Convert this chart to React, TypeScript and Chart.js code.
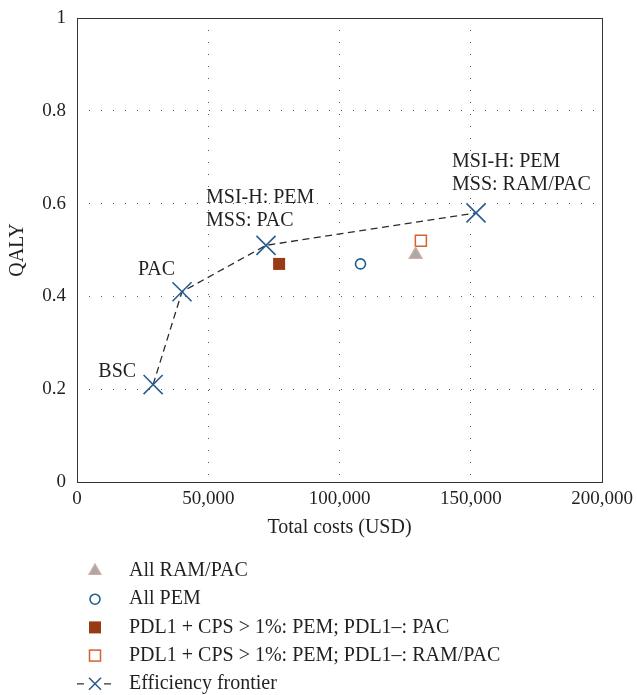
import React, { useEffect, useRef } from "react";
import { Chart, registerables } from "chart.js";

Chart.register(...registerables);

// ---- data ----
const frontierCosts = [29000, 40000, 72000, 152000];
const frontierQaly = [0.21, 0.41, 0.51, 0.58];
const frontierLabels = [["BSC"], ["PAC"], ["MSI-H: PEM", "MSS: PAC"], ["MSI-H: PEM", "MSS: RAM/PAC"]];

const allRamPacCost = [129000];
const allRamPacQaly = [0.49];
const allPemCost = [108000];
const allPemQaly = [0.47];
const pdlPacCost = [77000];
const pdlPacQaly = [0.47];
const pdlRamPacCost = [131000];
const pdlRamPacQaly = [0.52];

const seriesNames = [
  "All RAM/PAC",
  "All PEM",
  "PDL1 + CPS > 1%: PEM; PDL1–: PAC",
  "PDL1 + CPS > 1%: PEM; PDL1–: RAM/PAC",
  "Efficiency frontier",
];

const xTicks = [0, 50000, 100000, 150000, 200000];
const yTicks = [0, 0.2, 0.4, 0.6, 0.8, 1];
const xTitle = "Total costs (USD)";
const yTitle = "QALY";

// ---- styles ----
const FONT = "'Liberation Serif', 'Times New Roman', serif";
const TEXT = "#231f20";
const BLUE = "#2a5d8f";
const CIRCLE = "#1f5f8f";
const RUST = "#973b16";
const ORANGE = "#d0642f";
const TRI_FILL = "#a9a9a9";
const TRI_BORDER = "#d8aaa2";

// label offsets relative to each frontier point: [dx, dy of first line, align]
const labelOffsets: [number, number, CanvasTextAlign][] = [
  [-17, -13, "right"],
  [-7, -22, "right"],
  [-60, -48, "left"],
  [-24, -51, "left"],
];
const LABEL_LINE = 23;

const pts = (xs: number[], ys: number[]) => xs.map((x, i) => ({ x, y: ys[i] }));

function drawSym(ctx: CanvasRenderingContext2D, kind: number, x: number, y: number) {
  ctx.save();
  ctx.setLineDash([]);
  if (kind === 0) {
    const r = 7;
    ctx.beginPath();
    ctx.moveTo(x, y - r);
    ctx.lineTo(x + r * 0.866, y + r / 2);
    ctx.lineTo(x - r * 0.866, y + r / 2);
    ctx.closePath();
    ctx.fillStyle = TRI_FILL;
    ctx.fill();
    ctx.strokeStyle = TRI_BORDER;
    ctx.lineWidth = 1.2;
    ctx.stroke();
  } else if (kind === 1) {
    ctx.beginPath();
    ctx.arc(x, y, 5, 0, Math.PI * 2);
    ctx.strokeStyle = CIRCLE;
    ctx.lineWidth = 1.6;
    ctx.stroke();
  } else if (kind === 2) {
    ctx.fillStyle = RUST;
    ctx.fillRect(x - 6, y - 6, 12, 12);
  } else if (kind === 3) {
    ctx.fillStyle = "#fff";
    ctx.fillRect(x - 5.5, y - 5.5, 11, 11);
    ctx.strokeStyle = ORANGE;
    ctx.lineWidth = 1.5;
    ctx.strokeRect(x - 5.5, y - 5.5, 11, 11);
  } else {
    ctx.strokeStyle = "#333";
    ctx.lineWidth = 1.3;
    ctx.beginPath();
    ctx.moveTo(x - 18, y);
    ctx.lineTo(x - 11, y);
    ctx.moveTo(x + 9, y);
    ctx.lineTo(x + 16, y);
    ctx.stroke();
    ctx.strokeStyle = BLUE;
    ctx.lineWidth = 1.6;
    ctx.beginPath();
    ctx.moveTo(x - 6, y - 6);
    ctx.lineTo(x + 6, y + 6);
    ctx.moveTo(x + 6, y - 6);
    ctx.lineTo(x - 6, y + 6);
    ctx.stroke();
  }
  ctx.restore();
}

const framePlugin = {
  id: "frame",
  beforeDatasetsDraw(chart: any) {
    const { ctx, chartArea: a } = chart;
    ctx.save();
    ctx.strokeStyle = "#333";
    ctx.lineWidth = 1;
    ctx.setLineDash([]);
    ctx.strokeRect(Math.round(a.left) + 0.5, Math.round(a.top) + 0.5, Math.round(a.right - a.left), Math.round(a.bottom - a.top));
    ctx.restore();
  },
};

const labelsPlugin = {
  id: "labels",
  afterDraw(chart: any) {
    const { ctx } = chart;
    const xs = chart.scales.x;
    const ys = chart.scales.y;
    ctx.save();
    ctx.fillStyle = TEXT;
    ctx.font = `20px ${FONT}`;
    ctx.textBaseline = "middle";
    frontierLabels.forEach((lines, i) => {
      const px = xs.getPixelForValue(frontierCosts[i]);
      const py = ys.getPixelForValue(frontierQaly[i]);
      const [dx, dy, align] = labelOffsets[i];
      ctx.textAlign = align;
      lines.forEach((t, j) => ctx.fillText(t, px + dx, py + dy + j * LABEL_LINE));
    });
    // legend
    const lx = 95;
    const ly0 = 571;
    const step = 28.2;
    seriesNames.forEach((name, i) => {
      const y = ly0 + i * step;
      drawSym(ctx, i, lx, y);
      ctx.fillStyle = TEXT;
      ctx.textAlign = "left";
      ctx.font = `20px ${FONT}`;
      ctx.fillText(name, 129, y);
    });
    ctx.restore();
  },
};

export default function App() {
  const ref = useRef<HTMLCanvasElement>(null);
  useEffect(() => {
    document.body.style.margin = "0";
    const canvas = ref.current!;
    const chart = new Chart(canvas, {
      type: "scatter",
      data: {
        datasets: [
          {
            label: seriesNames[0],
            data: pts(allRamPacCost, allRamPacQaly),
            pointStyle: "triangle",
            pointRadius: 7.5,
            backgroundColor: TRI_FILL,
            borderColor: TRI_BORDER,
            borderWidth: 1.2,
          },
          {
            label: seriesNames[1],
            data: pts(allPemCost, allPemQaly),
            pointStyle: "circle",
            pointRadius: 5,
            backgroundColor: "rgba(255,255,255,0)",
            borderColor: CIRCLE,
            borderWidth: 1.6,
          },
          {
            label: seriesNames[2],
            data: pts(pdlPacCost, pdlPacQaly),
            pointStyle: "rect",
            pointRadius: 8.5,
            backgroundColor: RUST,
            borderColor: RUST,
            borderWidth: 0,
          },
          {
            label: seriesNames[3],
            data: pts(pdlRamPacCost, pdlRamPacQaly),
            pointStyle: "rect",
            pointRadius: 7.8,
            backgroundColor: "#fff",
            borderColor: ORANGE,
            borderWidth: 1.5,
          },
          {
            label: seriesNames[4],
            data: pts(frontierCosts, frontierQaly),
            showLine: true,
            borderColor: "#2b2b2b",
            borderWidth: 1.3,
            borderDash: [7, 4.5],
            pointStyle: "crossRot",
            pointRadius: 13.5,
            pointBorderColor: BLUE,
            pointBackgroundColor: BLUE,
            pointBorderWidth: 1.6,
          } as any,
        ],
      },
      options: {
        responsive: false,
        animation: false,
        events: [],
        layout: { padding: { left: 0, top: 18, right: 35, bottom: 151 } },
        plugins: {
          legend: { display: false },
          tooltip: { enabled: false },
        },
        scales: {
          x: {
            type: "linear",
            min: 0,
            max: 200000,
            afterBuildTicks: (s: any) => {
              s.ticks = xTicks.map((v) => ({ value: v }));
            },
            afterFit: (s: any) => {
              s.height = 62;
              s.paddingLeft = 0;
              s.paddingRight = 0;
            },
            ticks: {
              padding: 6,
              color: TEXT,
              font: { family: FONT, size: 19 },
              maxRotation: 0,
              callback: (v: any) => Number(v).toLocaleString("en-US"),
            },
            grid: {
              drawTicks: false,
              color: (c: any) =>
                c.tick && (c.tick.value === 0 || c.tick.value === 200000) ? "rgba(0,0,0,0)" : "#5a5a5a",
              lineWidth: 1,
            },
            border: { display: false, dash: [1, 11] },
            title: {
              display: true,
              text: xTitle,
              color: TEXT,
              font: { family: FONT, size: 20 },
              padding: { top: 4, bottom: 4 },
            },
          },
          y: {
            type: "linear",
            min: 0,
            max: 1,
            afterBuildTicks: (s: any) => {
              s.ticks = yTicks.map((v) => ({ value: v }));
            },
            afterFit: (s: any) => {
              s.width = 77;
              s.paddingTop = 0;
              s.paddingBottom = 0;
            },
            ticks: {
              padding: 11,
              color: TEXT,
              font: { family: FONT, size: 19 },
              callback: (v: any) => String(v),
            },
            grid: {
              drawTicks: false,
              color: (c: any) =>
                c.tick && (c.tick.value === 0 || c.tick.value === 1) ? "rgba(0,0,0,0)" : "#5a5a5a",
              lineWidth: 1,
            },
            border: { display: false, dash: [1, 11] },
            title: {
              display: true,
              text: yTitle,
              color: TEXT,
              font: { family: FONT, size: 20 },
              padding: { top: 6, bottom: 4 },
            },
          },
        },
      },
      plugins: [framePlugin, labelsPlugin],
    });
    return () => chart.destroy();
  }, []);
  return (
    <div style={{ width: 637, height: 695 }}>
      <canvas ref={ref} width={637} height={695} style={{ display: "block", width: 637, height: 695 }} />
    </div>
  );
}
